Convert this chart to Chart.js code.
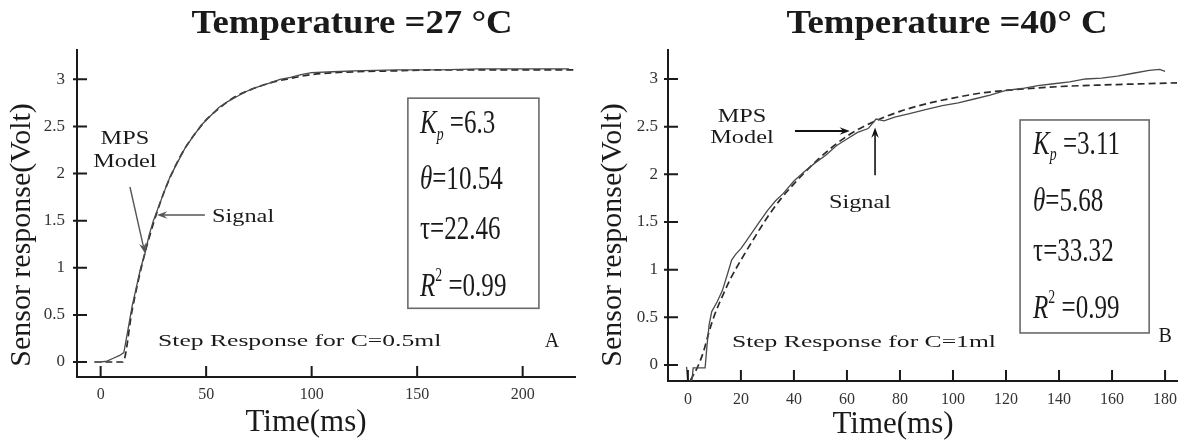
<!DOCTYPE html>
<html>
<head>
<meta charset="utf-8">
<script src="https://cdn.jsdelivr.net/npm/chart.js@4.4.1/dist/chart.umd.min.js"></script>
<style>
  body { margin: 0; background: #fff; }
  canvas { position: absolute; top: 0; }
  #ca { left: 0; }
  #cb { left: 595px; }
</style>
</head>
<body>
<canvas id="ca" width="595" height="441"></canvas>
<canvas id="cb" width="594" height="441"></canvas>
<script>
/* ---- Panel A: 27 °C, C = 0.5 ml ---- */
const A_SIGNAL_T = [0, 3, 6, 9, 11, 13, 15, 17, 19, 21, 23, 25, 27, 30, 33, 36, 40, 44, 48, 52, 56, 60, 64, 68, 72, 76, 80, 85, 90, 95, 100, 110, 120, 140, 160, 180, 200, 222];
const A_SIGNAL_V = [0, 0.01, 0.04, 0.07, 0.1, 0.35, 0.6, 0.8, 1.0, 1.15, 1.35, 1.5, 1.62, 1.8, 1.97, 2.1, 2.27, 2.4, 2.52, 2.61, 2.7, 2.76, 2.81, 2.86, 2.9, 2.93, 2.96, 3.0, 3.02, 3.05, 3.07, 3.08, 3.09, 3.1, 3.1, 3.11, 3.11, 3.11];
const A_MODEL_T = [-3, 5, 10.5, 15, 20, 25, 30, 35, 40, 45, 50, 55, 60, 65, 70, 80, 90, 100, 110, 120, 140, 160, 180, 200, 225];
const A_MODEL_V = [0, 0, 0, 0.56, 1.07, 1.47, 1.8, 2.06, 2.27, 2.43, 2.57, 2.67, 2.76, 2.83, 2.88, 2.96, 3.01, 3.05, 3.07, 3.08, 3.09, 3.1, 3.1, 3.1, 3.1];
const A_X_TICKS = [0, 50, 100, 150, 200];
const A_PARAMS = ["6.3", "10.54", "22.46", "0.99"];

/* ---- Panel B: 40 °C, C = 1 ml ---- */
const B_SIGNAL_T = [-0.5, 0, 1.5, 2, 6.5, 7.2, 8, 9, 11, 13, 15, 16.5, 18, 20, 22, 24, 27, 30, 33, 36, 40, 44, 48, 52, 56, 60, 64, 68, 71, 74, 78, 84, 90, 96, 102, 108, 114, 120, 126, 132, 138, 144, 150, 156, 162, 168, 174, 178, 180];
const B_SIGNAL_V = [-0.02, -0.17, -0.17, -0.03, -0.03, 0.2, 0.42, 0.56, 0.66, 0.78, 0.96, 1.1, 1.16, 1.22, 1.3, 1.38, 1.5, 1.62, 1.72, 1.8, 1.93, 2.03, 2.12, 2.2, 2.3, 2.37, 2.44, 2.48, 2.58, 2.56, 2.6, 2.64, 2.68, 2.72, 2.75, 2.79, 2.83, 2.88, 2.9, 2.93, 2.95, 2.97, 3.0, 3.01, 3.03, 3.06, 3.09, 3.1, 3.08];
const B_MODEL_T = [1, 4, 6, 8, 10, 13, 16, 20, 25, 30, 35, 40, 50, 60, 70, 80, 90, 100, 110, 120, 140, 160, 185];
const B_MODEL_V = [-0.16, 0, 0.15, 0.35, 0.52, 0.72, 0.9, 1.1, 1.33, 1.55, 1.74, 1.9, 2.18, 2.4, 2.55, 2.66, 2.74, 2.8, 2.85, 2.88, 2.92, 2.94, 2.96];
const B_X_TICKS = [0, 20, 40, 60, 80, 100, 120, 140, 160, 180];
const B_PARAMS = ["3.11", "5.68", "33.32", "0.99"];

const Y_TICKS = [0, 0.5, 1, 1.5, 2, 2.5, 3];

const SERIF = '"Liberation Serif", "Times New Roman", serif';
const INK = "#1a1a1a";

const pts = (ts, vs) => ts.map((t, i) => ({ x: t, y: vs[i] }));

/* text with horizontal stretch; (x, y) is the anchor, vertically centred */
function drawText(ctx, str, x, y, o) {
  const { size = 18, weight = "", style = "", sx = 1, align = "left", rot = 0 } = o;
  ctx.save();
  ctx.font = `${style} ${weight} ${size}px ${SERIF}`;
  ctx.fillStyle = INK;
  ctx.textBaseline = "middle";
  ctx.textAlign = "left";
  const w = ctx.measureText(str).width;
  ctx.translate(x, y);
  if (rot) ctx.rotate(rot);
  ctx.scale(sx, 1);
  const off = align === "center" ? -w / 2 : align === "right" ? -w : 0;
  ctx.fillText(str, off, 0);
  ctx.restore();
}

/* one line of the parameter box: segments with italic / sub / sup */
function drawRich(ctx, segs, x, y, size, sx) {
  ctx.save();
  ctx.translate(x, y);
  ctx.scale(sx, 1);
  ctx.fillStyle = INK;
  ctx.textBaseline = "alphabetic";
  let cx = 0;
  segs.forEach((g) => {
    const fs = g.sub || g.sup ? size * 0.55 : size;
    ctx.font = `${g.it ? "italic " : ""}${fs}px ${SERIF}`;
    const dy = g.sub ? size * 0.2 : g.sup ? -size * 0.45 : 0;
    ctx.fillText(g.s, cx, dy);
    cx += ctx.measureText(g.s).width;
  });
  ctx.restore();
}

function arrow(ctx, x1, y1, x2, y2, color, lw, head) {
  const a = Math.atan2(y2 - y1, x2 - x1);
  ctx.save();
  ctx.strokeStyle = color;
  ctx.fillStyle = color;
  ctx.lineWidth = lw;
  ctx.beginPath();
  ctx.moveTo(x1, y1);
  ctx.lineTo(x2 - Math.cos(a) * head * 0.6, y2 - Math.sin(a) * head * 0.6);
  ctx.stroke();
  ctx.beginPath();
  ctx.moveTo(x2, y2);
  ctx.lineTo(x2 - head * Math.cos(a - 0.35), y2 - head * Math.sin(a - 0.35));
  ctx.lineTo(x2 - head * 0.6 * Math.cos(a), y2 - head * 0.6 * Math.sin(a));
  ctx.lineTo(x2 - head * Math.cos(a + 0.35), y2 - head * Math.sin(a + 0.35));
  ctx.closePath();
  ctx.fill();
  ctx.restore();
}

/* inward ticks, titles, arrows, parameter box */
const decor = {
  id: "decor",
  afterDraw(chart, args, o) {
    const { ctx } = chart;
    const xs = chart.scales.x, ys = chart.scales.y;
    const X = (v) => xs.getPixelForValue(v);
    const Y = (v) => ys.getPixelForValue(v);

    ctx.save();
    ctx.strokeStyle = INK;
    ctx.lineWidth = 2;
    ctx.beginPath();
    xs.ticks.forEach((t) => {
      ctx.moveTo(X(t.value), ys.bottom + 1);
      ctx.lineTo(X(t.value), ys.bottom - 11);
    });
    ys.ticks.forEach((t) => {
      ctx.moveTo(xs.left - 4, Y(t.value));
      ctx.lineTo(xs.left + 10, Y(t.value));
    });
    ctx.stroke();
    ctx.restore();

    drawText(ctx, o.title, o.titlePos[0], o.titlePos[1], { size: 34, weight: "bold", sx: 1.08, align: "center" });
    drawText(ctx, "Sensor response(Volt)", o.yTitlePos[0], o.yTitlePos[1], { size: 30, align: "center", rot: -Math.PI / 2 });
    drawText(ctx, "Time(ms)", o.xTitlePos[0], o.xTitlePos[1], { size: 31, align: "center" });

    o.labels.forEach((l) => drawText(ctx, l.text, X(l.at[0]), Y(l.at[1]), l.style));
    o.arrows.forEach((a) => arrow(ctx, X(a[0]), Y(a[1]), X(a[2]), Y(a[3]), a[4], a[5], 11));

    const [t0, t1, v0, v1] = o.box;
    ctx.save();
    ctx.strokeStyle = "#6a6a6a";
    ctx.lineWidth = 1.6;
    ctx.strokeRect(X(t0), Y(v0), X(t1) - X(t0), Y(v1) - Y(v0));
    ctx.restore();
    const p = o.params;
    const lines = [
      [{ s: "K", it: true }, { s: "p", it: true, sub: true }, { s: " =" + p[0] }],
      [{ s: "θ", it: true }, { s: "=" + p[1] }],
      [{ s: "τ" }, { s: "=" + p[2] }],
      [{ s: "R", it: true }, { s: "2", sup: true }, { s: " =" + p[3] }],
    ];
    lines.forEach((segs, i) => drawRich(ctx, segs, X(o.boxTextT), Y(o.boxLinesV[i]) + 11, 33, 0.76));
  },
};

function makePanel(canvas, cfg) {
  return new Chart(canvas, {
    type: "line",
    data: {
      datasets: [
        {
          label: "Signal",
          data: pts(cfg.sigT, cfg.sigV),
          borderColor: "#4a4a4a",
          borderWidth: 1.3,
          pointRadius: 0,
          tension: 0,
        },
        {
          label: "MPS Model",
          data: pts(cfg.modT, cfg.modV),
          borderColor: "#2a2a2a",
          borderWidth: 1.7,
          borderDash: [7, 4],
          pointRadius: 0,
          cubicInterpolationMode: "monotone",
        },
      ],
    },
    options: {
      responsive: false,
      animation: false,
      layout: { padding: { top: 50, right: cfg.padR, left: 0, bottom: 0 } },
      plugins: {
        legend: { display: false },
        tooltip: { enabled: false },
        decor: cfg.decor,
      },
      scales: {
        x: {
          type: "linear",
          min: cfg.xMin,
          max: cfg.xMax,
          afterBuildTicks: (s) => { s.ticks = cfg.xTicks.map((v) => ({ value: v })); },
          afterFit: (s) => { s.height = cfg.xH; },
          grid: { display: false, drawTicks: false },
          border: { display: true, color: INK, width: 2 },
          ticks: { padding: cfg.xPad, color: "#333", font: { family: SERIF, size: 16 }, callback: (v) => String(v) },
        },
        y: {
          min: cfg.yMin,
          max: cfg.yMax,
          afterBuildTicks: (s) => { s.ticks = Y_TICKS.map((v) => ({ value: v })); },
          afterFit: (s) => { s.width = cfg.yW; },
          grid: { display: false, drawTicks: false },
          border: { display: true, color: INK, width: 2 },
          ticks: { padding: cfg.yPad, color: "#333", font: { family: SERIF, size: 17 }, callback: (v) => String(v) },
        },
      },
    },
    plugins: [decor],
  });
}

const NOTE = { size: 18, sx: 1.35, align: "center" };
const STEP = { size: 16, sx: 1.6, align: "left" };

makePanel(document.getElementById("ca"), {
  sigT: A_SIGNAL_T, sigV: A_SIGNAL_V, modT: A_MODEL_T, modV: A_MODEL_V,
  xTicks: A_X_TICKS, xMin: -11.2, xMax: 224.8, yMin: -0.159, yMax: 3.311,
  yW: 77, xH: 64, padR: 20, xPad: 8, yPad: 12,
  decor: {
    title: "Temperature =27 °C", titlePos: [352, 24],
    yTitlePos: [22, 235], xTitlePos: [306, 423],
    labels: [
      { text: "MPS", at: [11.5, 2.36], style: NOTE },
      { text: "Model", at: [11.5, 2.12], style: NOTE },
      { text: "Signal", at: [52.8, 1.535], style: { ...NOTE, align: "left" } },
      { text: "Step Response for C=0.5ml", at: [27.2, 0.21], style: STEP },
      { text: "A", at: [213.9, 0.21], style: { size: 20, sx: 1, align: "center" } },
    ],
    arrows: [
      [13.9, 1.857, 21, 1.154, "#555", 1.4],
      [49.4, 1.56, 26.7, 1.56, "#555", 1.6],
    ],
    box: [145.6, 207.7, 2.8, 0.57],
    boxTextT: 151.3, boxLinesV: [2.546, 1.95, 1.42, 0.815],
    params: A_PARAMS,
  },
});

makePanel(document.getElementById("cb"), {
  sigT: B_SIGNAL_T, sigV: B_SIGNAL_V, modT: B_MODEL_T, modV: B_MODEL_V,
  xTicks: B_X_TICKS, xMin: -7.5, xMax: 184.5, yMin: -0.168, yMax: 3.304,
  yW: 73, xH: 60, padR: 12, xPad: 9, yPad: 10,
  decor: {
    title: "Temperature =40° C", titlePos: [352, 24],
    yTitlePos: [18, 235], xTitlePos: [298, 425],
    labels: [
      { text: "MPS", at: [20.4, 2.6], style: NOTE },
      { text: "Model", at: [20.4, 2.38], style: NOTE },
      { text: "Signal", at: [64.9, 1.7], style: NOTE },
      { text: "Step Response for C=1ml", at: [16.6, 0.23], style: STEP },
      { text: "B", at: [180, 0.294], style: { size: 20, sx: 1, align: "center" } },
    ],
    arrows: [
      [40.4, 2.455, 61.1, 2.455, "#111", 2],
      [70.6, 1.99, 70.6, 2.49, "#111", 1.6],
    ],
    box: [125.3, 174, 2.57, 0.336],
    boxTextT: 130.2, boxLinesV: [2.33, 1.73, 1.21, 0.61],
    params: B_PARAMS,
  },
});
</script>
</body>
</html>
